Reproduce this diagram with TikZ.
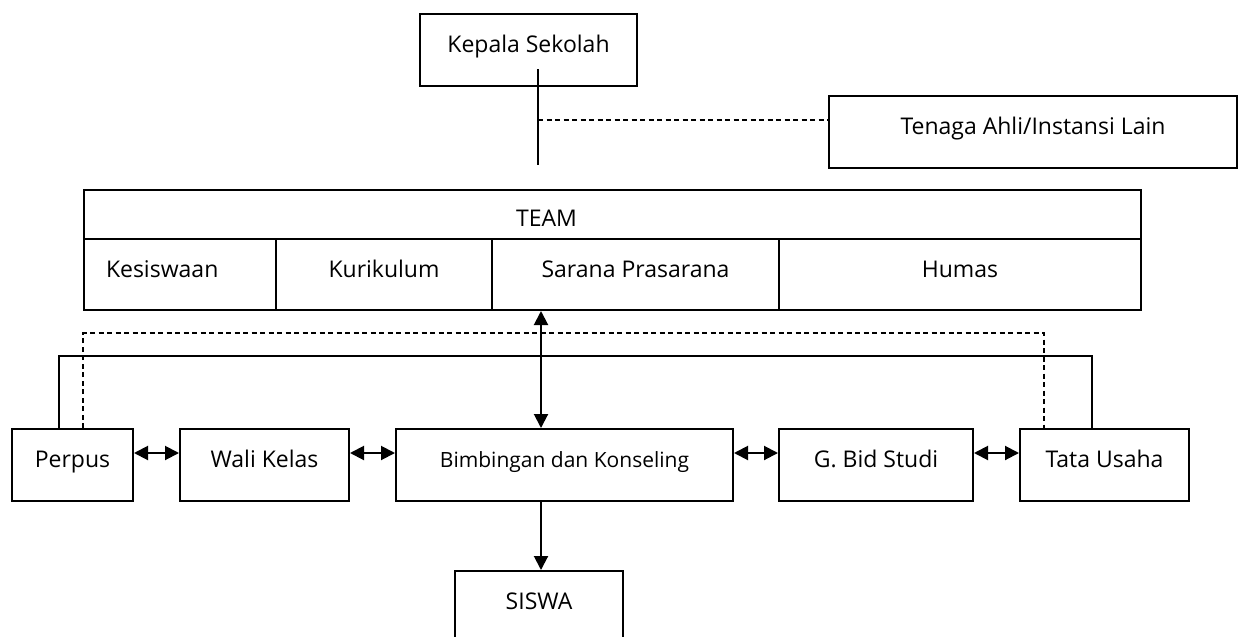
\documentclass[tikz,border=0pt]{standalone}
\usepackage{fontspec}
\setmainfont{Open Sans}
\usepackage{tikz}
\usetikzlibrary{arrows.meta}

\begin{document}
\begin{tikzpicture}[x = 0.5pt, y = -0.5pt, line width = 1pt,
  kotak/.style = {draw, anchor = north west, inner xsep = 0pt, inner ysep = 0pt, text height = 19pt, text depth = 17pt, font = \fontsize{11.5pt}{13pt}\selectfont},
  sel/.style = {kotak, text depth = 16.5pt},
  garis/.style = {dash pattern = on 2.5pt off 1.75pt},
  panah/.style = {-{Triangle[length = 7pt, width = 7pt]}},
  dua/.style = {{Triangle[length = 7pt, width = 7pt]}-{Triangle[length = 7pt, width = 7pt]}}]
\useasboundingbox [fill = white] (0,0) rectangle (1242,637);
\node[kotak, minimum width = 108.5pt](kepala) at (419,13){Kepala Sekolah};
\node[kotak, minimum width = 204pt](tenaga) at (828,95){Tenaga Ahli/Instansi Lain};
\node[draw, anchor = north west, minimum width = 528.5pt, minimum height = 24.5pt, inner sep = 0pt, label = {[xshift = -33pt, yshift = -2pt, font = \fontsize{11.5pt}{13pt}\selectfont]center:TEAM}](team) at (83,189){};
\node[sel, text width = 74pt, align = left, inner xsep = 11pt](kesiswaan) at (83,238){Kesiswaan};
\node[sel, minimum width = 108pt](kurikulum) at (275,238){Kurikulum};
\node[sel, minimum width = 143.5pt](sarana) at (491,238){Sarana Prasarana};
\node[sel, minimum width = 181pt](humas) at (778,238){Humas};
\node[kotak, minimum width = 60.5pt](perpus) at (11,428){Perpus};
\node[kotak, minimum width = 84.5pt](wali) at (179,428){Wali Kelas};
\node[kotak, minimum width = 168.5pt, font = \fontsize{10.5pt}{12pt}\selectfont](bk) at (395,428){Bimbingan dan Konseling};
\node[kotak, minimum width = 97pt](gbid) at (778,428){G. Bid Studi};
\node[kotak, minimum width = 84.5pt](tata) at (1019,428){Tata Usaha};
\node[kotak, minimum width = 84pt](siswa) at (454,570){SISWA};
\coordinate (kpa) at ([xshift = 4.75pt, yshift = 9pt]kepala.south);
\coordinate (kpb) at ([xshift = 4.75pt, yshift = -39pt]kepala.south);
\coordinate (kpc) at ([xshift = 4.75pt, yshift = -16.5pt]kepala.south);
\draw (kpa) -- (kpb);
\draw [garis] (kpc) -- (kpc -| tenaga.west);
\draw [dua] ([xshift = -11.75pt]bk.north) -- ([xshift = -11.75pt]bk.north |- sarana.south);
\draw [panah] ([xshift = -11.75pt]bk.south) -- ([xshift = -11.75pt]bk.south |- siswa.north);
\draw [dua] ([yshift = 6pt]perpus.east) -- ([yshift = 6pt]wali.west);
\draw [dua] ([yshift = 6pt]wali.east) -- ([yshift = 6pt]bk.west);
\draw [dua] ([yshift = 6pt]bk.east) -- ([yshift = 6pt]gbid.west);
\draw [dua] ([yshift = 6pt]gbid.east) -- ([yshift = 6pt]tata.west);
\draw ([xshift = 24pt]perpus.north west) -- ++(0,-72) -| ([xshift = 36.5pt]tata.north west);
\draw [garis] ([xshift = 36pt]perpus.north west) -- ++(0,-95) -| ([xshift = 12.5pt]tata.north west);
\end{tikzpicture}
\end{document}
